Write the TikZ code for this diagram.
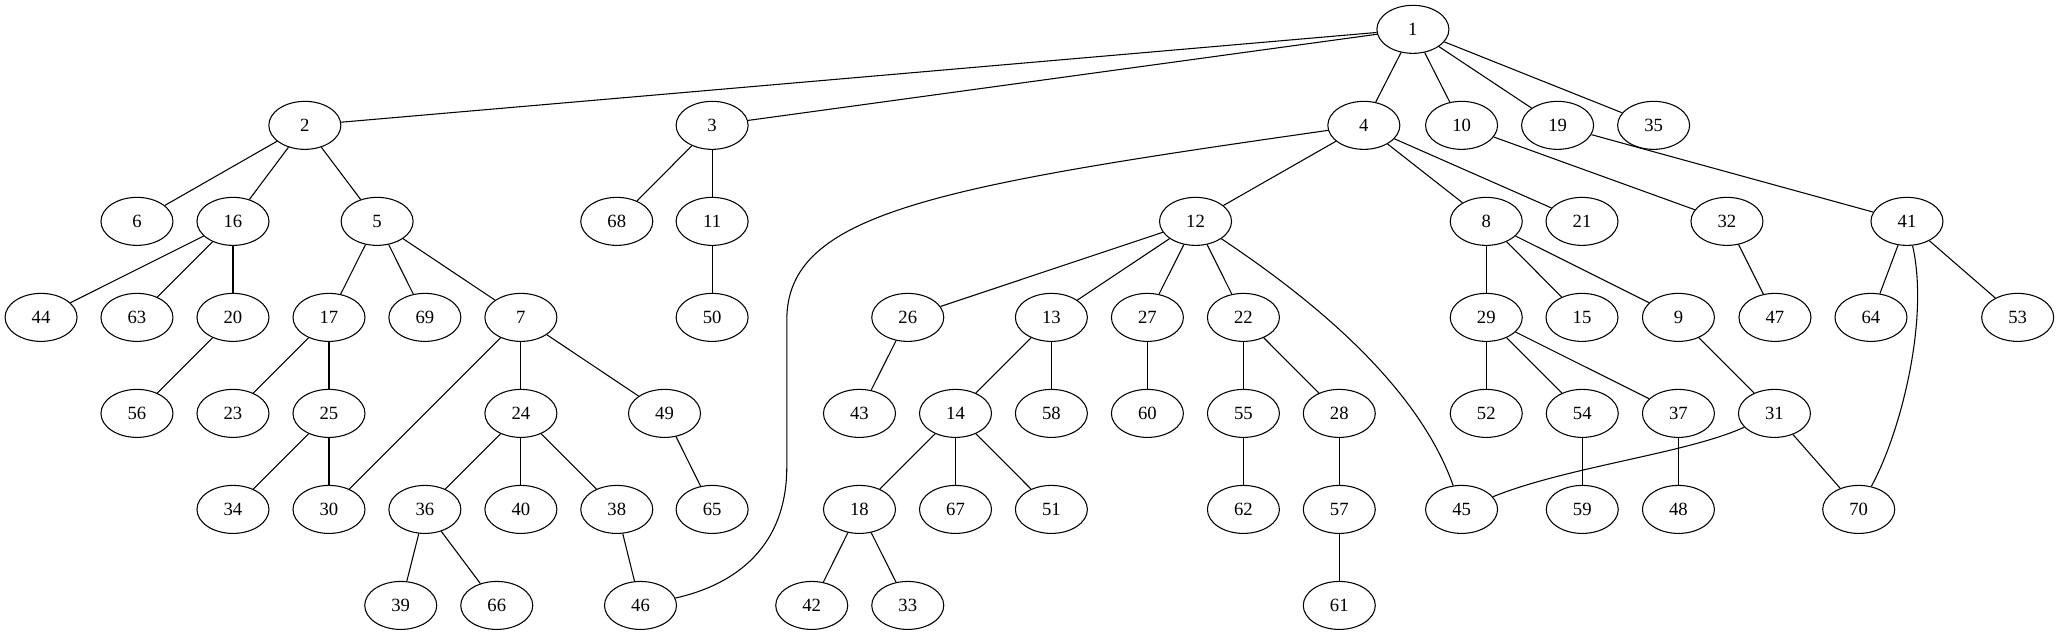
\documentclass[tikz,border=0pt]{standalone}
\usepackage{fontspec}
\setmainfont{Liberation Serif}
\usetikzlibrary{shapes.geometric}
\begin{document}
\begin{tikzpicture}[x=1pt,y=-1pt,
  gv/.style={draw,ellipse,minimum width=54pt,minimum height=36pt,inner sep=0pt,line width=0.8pt,font=\fontsize{14}{16}\selectfont},
  edge/.style={draw,line width=0.8pt}]
\useasboundingbox (0,0) rectangle (1544,476);
\foreach \n/\x/\y in {1/1059.5/22,
 2/228.6/94, 3/534/94, 4/1022.7/94, 10/1096/94, 19/1168/94, 35/1240/94,
 6/102.7/166, 16/174.7/166, 5/282.8/166, 68/462.5/166, 11/534/166, 12/896.5/166, 8/1114.5/166, 21/1186.3/166, 32/1295/166, 41/1430/166,
 44/30.8/238, 63/102.7/238, 20/174.7/238, 17/246.7/238, 69/318.6/238, 7/390.6/238, 50/534/238, 26/680.7/238, 13/788.4/238, 27/860.4/238, 22/932.4/238, 29/1114.5/238, 15/1186.3/238, 9/1258.6/238, 47/1331/238, 64/1403/238, 53/1513/238,
 56/102.7/310, 23/174.7/310, 25/246.7/310, 24/390.6/310, 49/498.3/310, 43/644.5/310, 14/716.5/310, 58/788.4/310, 60/860.4/310, 55/932.4/310, 28/1004.3/310, 52/1114.5/310, 54/1186.5/310, 37/1258.6/310, 31/1330.6/310,
 34/174.7/382, 30/246.7/382, 36/318.6/382, 40/390.6/382, 38/462.5/382, 65/534/382, 18/644.5/382, 67/716.5/382, 51/788.4/382, 62/932.4/382, 57/1004.3/382, 45/1096/382, 59/1186.5/382, 48/1258.6/382, 70/1393.8/382,
 39/300.5/454, 66/372.5/454, 46/480.3/454, 42/608.7/454, 33/680.7/454, 61/1004.3/454}
  \node[gv] (n\n) at (\x,\y) {\n};
\foreach \a/\b in {1/2,1/3,1/4,1/10,1/19,1/35,
 2/6,2/16,2/5,3/68,3/11,4/12,4/8,4/21,10/32,19/41,
 16/44,16/63,16/20,5/17,5/69,5/7,11/50,
 12/26,12/13,12/27,12/22,8/29,8/15,8/9,32/47,41/64,41/53,
 20/56,17/23,17/25,7/30,7/24,7/49,26/43,13/14,13/58,27/60,22/55,22/28,
 29/52,29/54,29/37,9/31,25/34,25/30,24/36,24/40,24/38,49/65,
 14/18,14/67,14/51,55/62,28/57,54/59,37/48,31/70,
 36/39,36/66,38/46,18/42,18/33,57/61}
  \draw[edge] (n\a) -- (n\b);
% curved edges
\draw[edge] (n4.188) .. controls (700,140) and (590,160) .. (590,240) -- (590,350) .. controls (590,415) and (545,440) .. (n46.12);
\draw[edge] (n12) .. controls (965,212) and (1060,280) .. (n45);
\draw[edge] (n41) .. controls (1447,240) and (1425,325) .. (n70);
\draw[edge] (n31) .. controls (1265,340) and (1175,350) .. (n45);
\end{tikzpicture}
\end{document}
